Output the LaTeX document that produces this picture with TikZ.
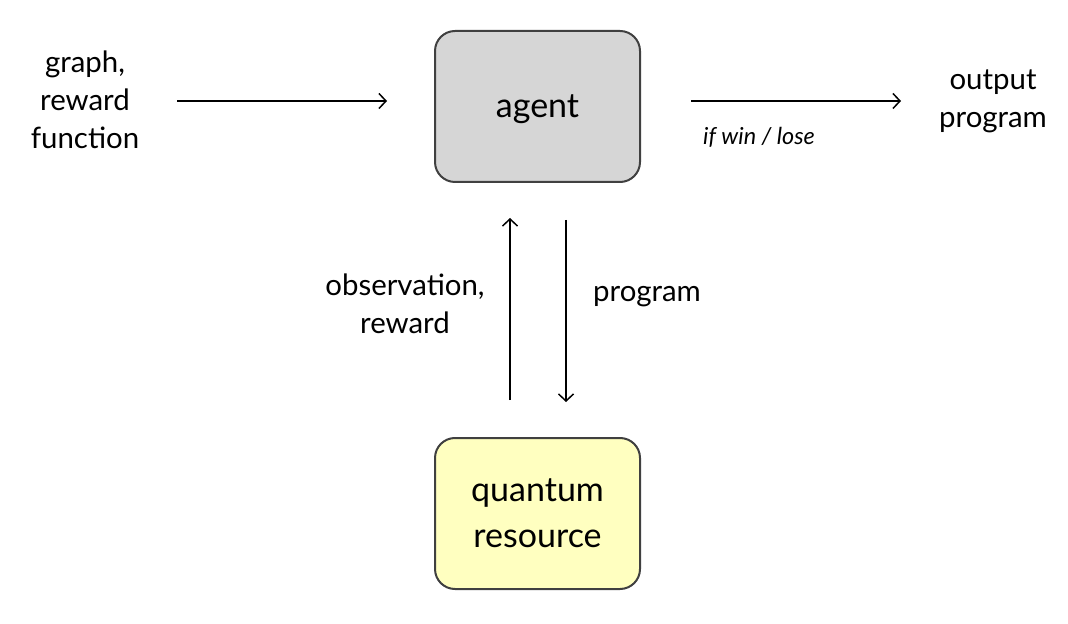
\documentclass[tikz,border=0pt]{standalone}
\usepackage{fontspec}
\setmainfont{Lato}
\usetikzlibrary{arrows.meta, positioning}
\definecolor{agentgray}{RGB}{214,214,214}
\definecolor{resyellow}{RGB}{255,255,192}
\definecolor{edgegray}{RGB}{64,64,64}

\tikzset{
  box/.style={draw=edgegray, line width=1pt, rounded corners=10pt,
    minimum width=102.5pt, minimum height=75.5pt, align=center,
    font=\fontsize{17}{23}\selectfont},
  flow/.style={line width=0.75pt, -{Straight Barb[length=3.5pt,width=7.5pt]}},
  lbl/.style={align=center, font=\fontsize{14.7}{19}\selectfont}
}

\begin{document}
\begin{tikzpicture}[x=0.5pt, y=-0.5pt]
\useasboundingbox (0,0) rectangle (1068,624);

% boxes
\node[box, fill=agentgray, text depth=0pt] (agent) at (537.5,106.5) {agent};
\node[box, fill=resyellow] (qres) at (537.5,513.5) {quantum\\resource};

% labels
\node[lbl] (input) at (85,100) {graph,\\reward\\function};
\node[lbl] (output) at (993,101.5) {output\\program};
\node[lbl] (obs) at (405,304) {observation,\\reward};
\node[lbl] (prog) at (647,297) {program};
\node[font=\fontsize{11.7}{14}\selectfont\itshape] (cond) at (759,137) {if win / lose};

% arrow ends
\coordinate (inA) at (177,101);
\coordinate (inB) at (387,101);
\coordinate (outA) at (691,101);
\coordinate (outB) at (901,101);
\coordinate (upA) at (510,400);
\coordinate (upB) at (510,218);
\coordinate (dnA) at (566,220);
\coordinate (dnB) at (566,402);

\draw[flow] (inA) -- (inB);
\draw[flow] (outA) -- (outB);
\draw[flow] (upA) -- (upB);
\draw[flow] (dnA) -- (dnB);
\end{tikzpicture}
\end{document}
